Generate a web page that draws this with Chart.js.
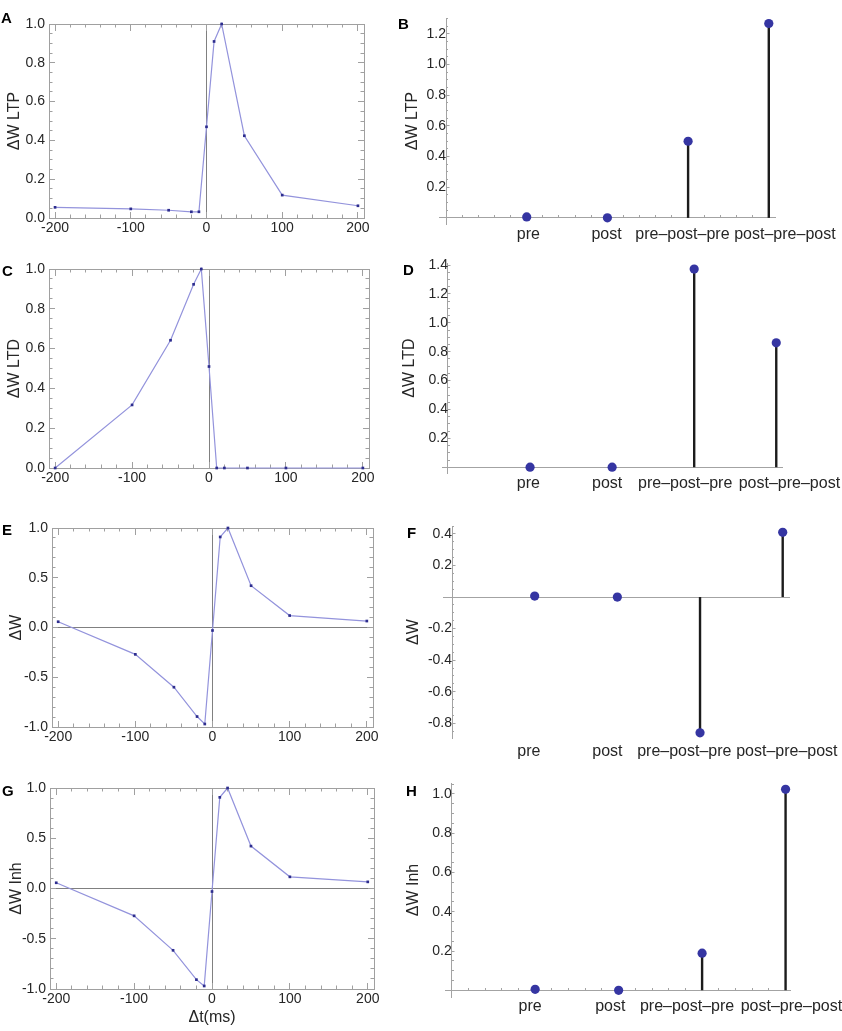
<!DOCTYPE html>
<html>
<head>
<meta charset="utf-8">
<script src="https://cdn.jsdelivr.net/npm/chart.js@4.4.1/dist/chart.umd.min.js"></script>
<style>
  html, body { margin: 0; padding: 0; background: #fff; }
  #figure { position: relative; width: 842px; height: 1031px; overflow: hidden; font-family: 'Liberation Sans', Arial, sans-serif; }
  #figure canvas { position: absolute; }
  .tag { position: absolute; font-weight: bold; font-size: 15px; line-height: 15px; color: #000; }
</style>
</head>
<body>
<div id="figure">
  <canvas id="chartA" width="385" height="245" style="left:0;top:0"></canvas>
  <canvas id="chartC" width="385" height="250" style="left:0;top:248px"></canvas>
  <canvas id="chartE" width="385" height="255" style="left:0;top:505px"></canvas>
  <canvas id="chartG" width="385" height="266" style="left:0;top:765px"></canvas>
  <canvas id="chartB" width="452" height="248" style="left:390px;top:0"></canvas>
  <canvas id="chartD" width="452" height="248" style="left:390px;top:250px"></canvas>
  <canvas id="chartF" width="452" height="260" style="left:390px;top:505px"></canvas>
  <canvas id="chartH" width="452" height="261" style="left:390px;top:770px"></canvas>
  <div class="tag" style="left:1px;top:10px">A</div>
  <div class="tag" style="left:398px;top:16px">B</div>
  <div class="tag" style="left:2px;top:263px">C</div>
  <div class="tag" style="left:403px;top:262px">D</div>
  <div class="tag" style="left:2px;top:522px">E</div>
  <div class="tag" style="left:407px;top:525px">F</div>
  <div class="tag" style="left:2px;top:783px">G</div>
  <div class="tag" style="left:406px;top:783px">H</div>
</div>
<script>
// spike timing (ms) and weight change curves, panels A C E G
const dt = [-200, -100, -50, -20, -10, 0, 10, 20, 50, 100, 200];
const dwLtp = [0.055, 0.047, 0.040, 0.032, 0.032, 0.47, 0.91, 1.0, 0.424, 0.118, 0.063];
const dwLtd = [0.0, 0.317, 0.642, 0.923, 1.0, 0.51, 0.0, 0.0, 0.0, 0.0, 0.0];
const dwTotal = [0.058, -0.27, -0.60, -0.895, -0.97, -0.03, 0.91, 1.0, 0.42, 0.12, 0.065];
const dwInh = [0.057, -0.272, -0.615, -0.907, -0.97, -0.03, 0.907, 1.0, 0.422, 0.116, 0.066];
const dtTicks = [-200, -100, 0, 100, 200];

// stimulation protocols, panels B D F H
const protocols = ['pre', 'post', 'pre–post–pre', 'post–pre–post'];
const protocolX = [1, 2, 3, 4];
const protoLtp = [0.006, 0, 0.50, 1.268];
const protoLtd = [0, 0, 1.372, 0.861];
const protoDw = [0.006, 0, -0.86, 0.41];
const protoInh = [0.005, 0, 0.189, 1.024];

const FONT = "'Liberation Sans', Arial, sans-serif";
const frameGrey = '#a0a0a0';
const zeroGrey = '#808080';
const axisGrey = '#a3a3a3';
const lineBlue = '#9393dc';
const pointBlue = '#2d2d8e';
const dotBlue = '#3535a2';
const stemBlack = '#1c1c1c';
const clear = 'rgba(0,0,0,0)';

Chart.defaults.font.family = FONT;
Chart.defaults.color = '#262626';

function frameTicks(axis, at, step, length, showBorder, lo, hi) {
    return {
        type: 'linear', axis: axis, position: at, min: lo, max: hi,
        ticks: {display: false, stepSize: step, includeBounds: false},
        grid: {drawOnChartArea: false, tickLength: length, color: frameGrey},
        border: {display: showBorder, color: frameGrey}
    };
}

function curveChart(canvasId, ys, p) {
    const canvas = document.getElementById(canvasId);
    const w = canvas.width, h = canvas.height;
    const xMin = -208, xMax = 208;
    const padBottom = p.padBottom || 0;
    const zeroLine = c => (c.tick && c.tick.value === 0) ? zeroGrey : clear;
    return new Chart(canvas, {
        type: 'line',
        data: {
            datasets: [{
                data: dt.map((x, i) => ({x: x, y: ys[i]})),
                borderColor: lineBlue,
                borderWidth: 1.2,
                pointRadius: 1.9,
                pointStyle: 'rect',
                pointBackgroundColor: pointBlue,
                pointBorderWidth: 0,
                tension: 0,
                clip: false
            }]
        },
        options: {
            responsive: false,
            animation: false,
            events: [],
            layout: {padding: {left: p.padLeft, top: p.top, right: w - p.right, bottom: padBottom}},
            plugins: {legend: {display: false}, tooltip: {enabled: false}},
            scales: {
                x: {
                    type: 'linear', position: 'bottom', min: xMin, max: xMax,
                    afterBuildTicks: s => { s.ticks = dtTicks.map(v => ({value: v})); },
                    afterFit: s => { s.height = h - padBottom - p.bottom; },
                    ticks: {font: {size: 14}, padding: 2, maxRotation: 0, autoSkip: false, callback: v => String(v)},
                    grid: {color: zeroLine, drawTicks: false},
                    border: {color: frameGrey},
                    title: {display: !!p.xTitle, text: p.xTitle || '', font: {size: 16}, padding: 0}
                },
                y: {
                    type: 'linear', position: 'left', min: p.yMin, max: p.yMax,
                    afterFit: s => { s.width = p.left - p.padLeft; },
                    ticks: {stepSize: p.yStep, font: {size: 14}, padding: 4, callback: v => v.toFixed(1)},
                    grid: {color: p.yZero ? zeroLine : clear, drawTicks: false},
                    border: {color: frameGrey},
                    title: {display: true, text: p.yTitle, font: {size: 16}, padding: 0}
                },
                xTopMaj: frameTicks('x', {y: p.yMax}, 100, 6, true, xMin, xMax),
                xTopMin: frameTicks('x', {y: p.yMax}, 20, 3.5, false, xMin, xMax),
                xBotMaj: frameTicks('x', {y: p.yMin}, 100, -6, false, xMin, xMax),
                xBotMin: frameTicks('x', {y: p.yMin}, 20, -3.5, false, xMin, xMax),
                yLeftMaj: frameTicks('y', {x: xMin}, p.yStep, -6, false, p.yMin, p.yMax),
                yLeftMin: frameTicks('y', {x: xMin}, p.yMinor, -3.5, false, p.yMin, p.yMax),
                yRightMaj: frameTicks('y', {x: xMax}, p.yStep, 6, true, p.yMin, p.yMax),
                yRightMin: frameTicks('y', {x: xMax}, p.yMinor, 3.5, false, p.yMin, p.yMax)
            }
        }
    });
}

function stemChart(canvasId, vals, p) {
    const canvas = document.getElementById(canvasId);
    const w = canvas.width, h = canvas.height;
    const points = protocolX.map((x, i) => ({x: x, y: vals[i]}));
    return new Chart(canvas, {
        type: 'scatter',
        data: {
            datasets: [
                {type: 'scatter', data: points, pointRadius: 4.6, pointBackgroundColor: dotBlue, pointBorderWidth: 0, clip: false},
                {type: 'bar', data: points, backgroundColor: stemBlack, barThickness: 2.4, inflateAmount: 0, borderWidth: 0}
            ]
        },
        options: {
            responsive: false,
            animation: false,
            events: [],
            layout: {padding: {left: p.padLeft, top: p.top, right: w - p.right, bottom: 0}},
            plugins: {legend: {display: false}, tooltip: {enabled: false}},
            scales: {
                x: {
                    type: 'linear', axis: 'x', position: {y: 0}, min: p.xMin, max: p.xMax, offset: false,
                    ticks: {display: false, stepSize: 0.2, includeBounds: false},
                    grid: {offset: false, drawOnChartArea: false, drawTicks: p.xTicks, tickLength: -3, color: axisGrey},
                    border: {color: axisGrey}
                },
                xLab: {
                    type: 'linear', axis: 'x', position: 'bottom', min: p.xMin, max: p.xMax, offset: false,
                    afterBuildTicks: s => { s.ticks = protocolX.map((x, i) => ({value: x + p.labelNudge[i]})); },
                    afterFit: s => { s.height = h - p.bottom; },
                    ticks: {callback: (v, i) => protocols[i], font: {size: 16}, padding: p.labelPad, autoSkip: false, maxRotation: 0, minRotation: 0},
                    grid: {display: false, drawTicks: false},
                    border: {display: false}
                },
                y: {
                    type: 'linear', axis: 'y', position: {x: 0}, min: p.yMin, max: p.yMax,
                    ticks: {stepSize: 0.2, includeBounds: false, font: {size: 14}, padding: 4,
                            callback: v => Math.abs(v) < 1e-9 ? null : v.toFixed(1)},
                    grid: {drawOnChartArea: false, tickLength: -3.5, color: axisGrey},
                    border: {color: axisGrey}
                },
                yMinor: {
                    type: 'linear', axis: 'y', position: {x: 0}, min: p.yMin, max: p.yMax,
                    ticks: {display: false, stepSize: 0.05, includeBounds: false},
                    grid: {drawOnChartArea: false, tickLength: -2, color: axisGrey},
                    border: {display: false}
                },
                yTitle: {
                    type: 'linear', axis: 'y', position: 'left',
                    afterFit: s => { s.width = p.left - p.padLeft; },
                    ticks: {display: false},
                    grid: {display: false, drawTicks: false},
                    border: {display: false},
                    title: {display: true, text: p.yTitle, font: {size: 16}, padding: 0}
                }
            }
        }
    });
}

curveChart('chartA', dwLtp, {top: 24, bottom: 218, left: 49, right: 364, padLeft: 5,
    yMin: 0, yMax: 1, yStep: 0.2, yMinor: 0.05, yTitle: 'ΔW LTP'});
curveChart('chartC', dwLtd, {top: 21, bottom: 220, left: 49, right: 369, padLeft: 5,
    yMin: 0, yMax: 1, yStep: 0.2, yMinor: 0.05, yTitle: 'ΔW LTD'});
curveChart('chartE', dwTotal, {top: 23, bottom: 222, left: 52, right: 373, padLeft: 7,
    yMin: -1, yMax: 1, yStep: 0.5, yMinor: 0.1, yZero: true, yTitle: 'ΔW'});
curveChart('chartG', dwInh, {top: 23, bottom: 224, left: 50, right: 374, padLeft: 7, padBottom: 4,
    yMin: -1, yMax: 1, yStep: 0.5, yMinor: 0.1, yZero: true, yTitle: 'ΔW Inh', xTitle: 'Δt(ms)'});

stemChart('chartB', protoLtp, {top: 18, bottom: 224, left: 49, right: 385, padLeft: 13,
    xMin: -0.087, xMax: 4.077, yMin: -0.04, yMax: 1.304, xTicks: true,
    labelNudge: [0.02, -0.01, -0.07, 0.2], labelPad: 1, yTitle: 'ΔW LTP'});
stemChart('chartD', protoLtd, {top: 13, bottom: 223, left: 52, right: 392, padLeft: 10,
    xMin: -0.073, xMax: 4.07, yMin: -0.04, yMax: 1.414, xTicks: false,
    labelNudge: [-0.02, -0.06, -0.11, 0.16], labelPad: 1, yTitle: 'ΔW LTD'});
stemChart('chartF', protoDw, {top: 21, bottom: 233, left: 53, right: 400, padLeft: 14,
    xMin: -0.109, xMax: 4.087, yMin: -0.893, yMax: 0.45, xTicks: false,
    labelNudge: [-0.07, -0.12, -0.19, 0.05], labelPad: 4, yTitle: 'ΔW'});
stemChart('chartH', protoInh, {top: 13, bottom: 227, left: 55, right: 401, padLeft: 14,
    xMin: -0.08, xMax: 4.06, yMin: -0.034, yMax: 1.056, xTicks: true,
    labelNudge: [-0.06, -0.1, -0.18, 0.07], labelPad: 0, yTitle: 'ΔW Inh'});
</script>
</body>
</html>
